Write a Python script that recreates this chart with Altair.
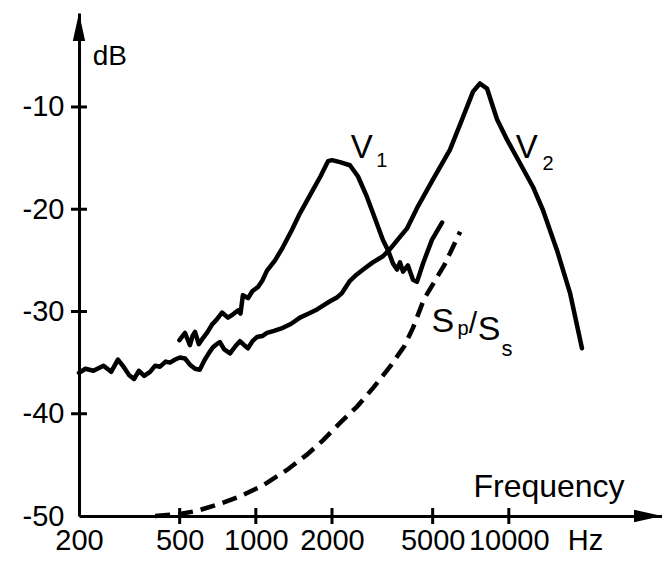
import altair as alt
import pandas as pd

FONT = "Liberation Sans"

# ---- data (frequency in Hz, level in dB) ----
v2_freq = [200, 212, 228, 250, 268, 285, 300, 315, 330, 345, 362, 382, 400, 418, 440, 458,
           480, 501, 525, 549, 575, 600, 629, 655, 677, 700, 721, 750, 791, 830, 865, 900,
           931, 970, 1010, 1060, 1107, 1180, 1280, 1380, 1494, 1620, 1746, 1850, 1964, 2100,
           2190, 2355, 2500, 2656, 2900, 3180, 3390, 3714, 3954, 4335, 5010, 5850, 6590,
           7220, 7690, 8200, 8980, 9840, 11070, 12450, 13650, 15500, 17460, 19460]
v2_db = [-36.0, -35.6, -35.8, -35.3, -35.9, -34.7, -35.4, -36.2, -36.6, -35.8, -36.3, -35.9,
         -35.3, -35.4, -34.9, -35.0, -34.7, -34.5, -34.6, -35.2, -35.6, -35.7, -34.7, -34.0,
         -33.5, -33.2, -33.0, -33.7, -34.1, -33.4, -32.9, -33.3, -33.6, -32.9, -32.5, -32.4,
         -32.1, -31.9, -31.6, -31.2, -30.6, -30.2, -29.8, -29.4, -29.0, -28.6, -28.2, -27.0,
         -26.4, -25.9, -25.2, -24.6, -23.9, -22.7, -21.9, -19.9, -17.1, -14.2, -11.0, -8.5,
         -7.7, -8.2, -11.2, -13.2, -15.5, -17.8, -20.1, -24.0, -28.2, -33.6]

v1_freq = [499, 525, 549, 562, 575, 595, 618, 645, 670, 700, 735, 776, 810, 850, 870, 889,
           931, 970, 1020, 1060, 1107, 1191, 1280, 1390, 1494, 1682, 1800, 1877, 1929, 2000,
           2150, 2355, 2535, 2750, 2958, 3180, 3330, 3484, 3614, 3714, 3817, 3992, 4180, 4335,
           4580, 4967, 5446]
v1_db = [-32.8, -32.1, -33.3, -32.4, -32.0, -33.2, -32.6, -32.0, -31.3, -30.8, -30.1, -30.6,
         -30.3, -29.9, -30.2, -28.4, -28.7, -28.0, -27.6, -27.0, -26.0, -25.0, -23.7, -22.0,
         -20.4, -18.1, -16.8, -15.9, -15.3, -15.2, -15.4, -15.7, -16.8, -18.8, -20.9, -23.0,
         -24.0, -25.3, -25.9, -25.2, -26.1, -25.5, -26.9, -27.1, -25.3, -23.0, -21.3]

sp_freq = [400, 500, 585, 702, 865, 1067, 1328, 1592, 1842, 2152, 2512, 2904, 3390, 3860,
           4180, 4620, 5580, 6420]
sp_db = [-50.0, -49.8, -49.5, -48.9, -48.1, -47.0, -45.5, -44.0, -42.6, -40.9, -39.3, -37.5,
         -35.4, -33.4, -31.6, -28.8, -25.4, -22.2]

x_tick_values = [500, 1000, 2000, 5000, 10000]
x_label_values = [200, 500, 1000, 2000, 5000, 10000, 20000]
y_tick_values = [-10, -20, -30, -40]
y_label_values = [-10, -20, -30, -40, -50]

label_text = ["V", "1", "V", "2", "S", "p", "/", "S", "s", "dB", "Frequency"]
label_freq = [2620, 3145, 11770, 14280, 5492, 6590, 7220, 8348, 9840, 265, 14420]
label_db = [-15.0, -15.9, -15.0, -16.2, -32.0, -32.3, -32.1, -32.8, -34.4, -5.9, -48.1]
label_size = [33, 20, 33, 20, 34, 20, 30, 34, 22, 28, 32]

X_MIN, X_MAX = 200, 40320
Y_MIN, Y_MAX = -50, -0.81
W, H = 583, 503

# ---- tables ----
rows = []
for name, fs, ds in [("V2", v2_freq, v2_db), ("V1", v1_freq, v1_db), ("Sp", sp_freq, sp_db)]:
    for i, (f, d) in enumerate(zip(fs, ds)):
        rows.append({"series": name, "order": i, "freq": f, "db": d})
curves = pd.DataFrame(rows)
labels = pd.DataFrame({"text": label_text, "freq": label_freq, "db": label_db, "size": label_size})

xs = alt.Scale(type="log", domain=[X_MIN, X_MAX], nice=False)
ys = alt.Scale(domain=[Y_MIN, Y_MAX], nice=False, zero=False)

base = alt.Chart(curves)

axis_layer = alt.Chart(pd.DataFrame({"freq": [X_MIN], "db": [Y_MIN]})).mark_point(opacity=0).encode(
    x=alt.X("freq:Q", scale=xs, axis=alt.Axis(values=x_label_values, title=None, grid=False,
                                               ticks=False, tickSize=0, labelPadding=10,
                                               labelOverlap=False, labelFlush=False,
                                               labelExpr="datum.value == 20000 ? 'Hz' : datum.value")),
    y=alt.Y("db:Q", scale=ys, axis=alt.Axis(values=y_label_values, title=None, grid=False,
                                             ticks=False, tickSize=0, labelPadding=15,
                                             labelOverlap=False, labelFlush=False,
                                             labelExpr="'-' + abs(datum.value)")),
)

solid = base.transform_filter(alt.datum.series != "Sp").mark_line(
    color="black", strokeWidth=4.5, strokeJoin="round", strokeCap="round"
).encode(
    x=alt.X("freq:Q", scale=xs),
    y=alt.Y("db:Q", scale=ys),
    detail="series:N",
    order="order:Q",
)

dashed = base.transform_filter(alt.datum.series == "Sp").mark_line(
    color="black", strokeWidth=4.5, strokeDash=[15, 8]
).encode(
    x=alt.X("freq:Q", scale=xs),
    y=alt.Y("db:Q", scale=ys),
    order="order:Q",
)

xticks = alt.Chart(pd.DataFrame({"freq": x_tick_values})).mark_rule(color="black", strokeWidth=3).encode(
    x=alt.X("freq:Q", scale=xs), y=alt.value(H - 8), y2=alt.value(H + 8)
)
yticks = alt.Chart(pd.DataFrame({"db": y_tick_values})).mark_rule(color="black", strokeWidth=3).encode(
    y=alt.Y("db:Q", scale=ys), x=alt.value(-8), x2=alt.value(8)
)

x_arrow = alt.Chart(pd.DataFrame({"freq": [X_MAX], "db": [Y_MIN]})).mark_point(
    shape="M0,0L-1,-0.22L-1,0.22Z", filled=True, color="black", opacity=1, size=3136
).encode(x=alt.X("freq:Q", scale=xs), y=alt.Y("db:Q", scale=ys))
y_arrow = alt.Chart(pd.DataFrame({"freq": [X_MIN], "db": [Y_MAX]})).mark_point(
    shape="M0,0L-0.22,1L0.22,1Z", filled=True, color="black", opacity=1, size=3136
).encode(x=alt.X("freq:Q", scale=xs), y=alt.Y("db:Q", scale=ys))

texts = alt.Chart(labels).mark_text(font=FONT, color="black", align="center", baseline="alphabetic").encode(
    x=alt.X("freq:Q", scale=xs), y=alt.Y("db:Q", scale=ys), text="text:N",
    size=alt.Size("size:Q", scale=None, legend=None),
)

chart = alt.layer(axis_layer, solid, dashed, xticks, yticks, x_arrow, y_arrow, texts).properties(
    width=W, height=H,
    padding={"left": 71, "top": 5, "right": 0, "bottom": 41},
    autosize=alt.AutoSizeParams(type="none"),
    background="white",
).configure_view(stroke=None).configure_axis(
    domainColor="black", domainWidth=3, labelColor="black", labelFont=FONT, labelFontSize=29,
)

chart.save("out.html", embed_options={"renderer": "svg", "actions": False})
